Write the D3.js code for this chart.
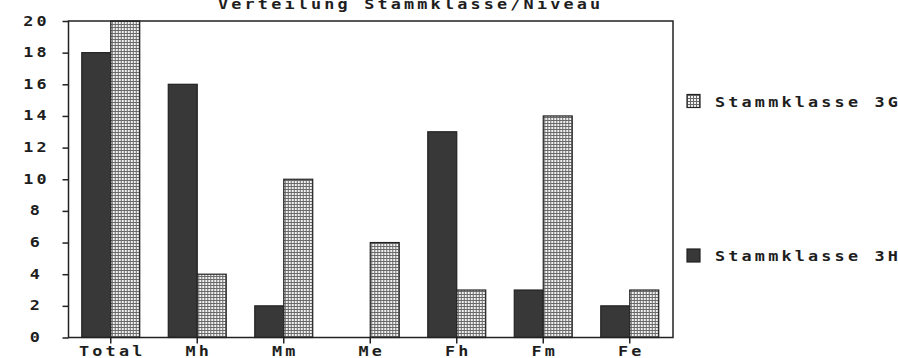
<!DOCTYPE html>
<html>
<head>
<meta charset="utf-8">
<script src="https://cdn.jsdelivr.net/npm/d3@7"></script>
<style>
  body { margin: 0; background: #fff; }
  text { font-family: "DejaVu Sans Mono", monospace; font-weight: bold; fill: #1e1e1e;
         font-size: 14px; letter-spacing: 2.65px; }
</style>
</head>
<body>
<div id="chart"></div>
<script>
const categories = ["Total", "Mh", "Mm", "Me", "Fh", "Fm", "Fe"];
const series = ["Stammklasse 3H", "Stammklasse 3G"];
const values3H = [18, 16, 2, 0, 13, 3, 2];
const values3G = [20, 4, 10, 6, 3, 14, 3];
const yTicks = [0, 2, 4, 6, 8, 10, 12, 14, 16, 18, 20];
const title = "Verteilung Stammklasse/Niveau";

const W = 898, H = 358;
const m = {t: 21, r: 225, b: 20.5, l: 67.5};
const SX = 1.2; // the old screen font is wide

const data = categories.map((c, i) => ({cat: c, vals: [values3H[i], values3G[i]]}));

const svg = d3.select("#chart").append("svg")
  .attr("width", W).attr("height", H);

// wide text helper
function label(sel, x, y) {
  return sel.attr("x", 0).attr("y", 0)
    .attr("transform", (d, i) => `translate(${x(d, i)},${y(d, i)}) scale(${SX},1)`);
}

// hatch pattern for the light series
const defs = svg.append("defs");
const pat = defs.append("pattern")
  .attr("id", "grid").attr("patternUnits", "userSpaceOnUse")
  .attr("width", 3).attr("height", 3);
pat.append("rect").attr("width", 3).attr("height", 3).attr("fill", "#f2f2f2");
pat.append("rect").attr("width", 3).attr("height", 1).attr("fill", "#6a6a6a");
pat.append("rect").attr("width", 1).attr("height", 3).attr("fill", "#6a6a6a");

const fills = ["#383838", "url(#grid)"];

const x0 = d3.scaleBand()
  .domain(categories)
  .range([m.l, W - m.r])
  .paddingInner(0.33)
  .paddingOuter(0.165);

const x1 = d3.scaleBand()
  .domain([0, 1])
  .range([0, x0.bandwidth()]);

const y = d3.scaleLinear()
  .domain([0, 20])
  .range([H - m.b, m.t]);

// bars
const groups = svg.selectAll(".grp")
  .data(data).enter().append("g")
  .attr("class", "grp")
  .attr("transform", d => `translate(${x0(d.cat)},0)`);

groups.selectAll("rect")
  .data(d => d.vals.map((v, k) => ({k, v})))
  .enter().append("rect")
  .attr("x", d => x1(d.k))
  .attr("width", x1.bandwidth())
  .attr("y", d => y(d.v))
  .attr("height", d => y(0) - y(d.v))
  .attr("fill", d => fills[d.k])
  .attr("stroke", "#222")
  .attr("stroke-width", d => d.v > 0 ? 1.2 : 0);

// frame
const left = m.l + 1, right = W - m.r;
svg.append("rect")
  .attr("x", left).attr("y", y(20))
  .attr("width", right - left).attr("height", y(0) - y(20))
  .attr("fill", "none").attr("stroke", "#222").attr("stroke-width", 1.5);

// y axis
const axisY = d3.axisLeft(y).tickValues(yTicks).tickSize(6).tickFormat("");
svg.append("g").attr("transform", `translate(${left},0)`).call(axisY)
  .call(g => g.select(".domain").remove())
  .call(g => g.selectAll("line").attr("stroke", "#222").attr("stroke-width", 1.5));

svg.append("g").selectAll("text")
  .data(yTicks).enter().append("text")
  .call(label, () => 36.5, d => y(d) + 4.5)
  .attr("text-anchor", "middle")
  .text(d => d);

// x axis
const axisX = d3.axisBottom(x0).tickSize(6).tickSizeOuter(0).tickFormat("");
const gx = svg.append("g").attr("transform", `translate(0,${y(0)})`).call(axisX);
gx.select(".domain").remove();
gx.selectAll(".tick line").attr("stroke", "#222").attr("stroke-width", 1.5);

svg.append("g").selectAll("text")
  .data(categories).enter().append("text")
  .call(label, d => x0(d) + x0.bandwidth() / 2 + 1.5, () => 355.5)
  .attr("text-anchor", "middle")
  .text(d => d);

// title (cut off at the top, as in the scan)
svg.append("text")
  .call(label, () => 218, () => 8.5)
  .text(title);

// legend
const legendY = {"Stammklasse 3G": 101, "Stammklasse 3H": 255.5};
const lg = svg.append("g").selectAll("g")
  .data([1, 0]).enter().append("g")
  .attr("transform", k => `translate(687,${legendY[series[k]]})`);
lg.append("rect")
  .attr("x", 0).attr("y", -6.5).attr("width", 13).attr("height", 13)
  .attr("fill", k => fills[k]).attr("stroke", "#222").attr("stroke-width", 1.2);
lg.append("text")
  .call(label, () => 28, () => 5.5)
  .text(k => series[k]);
</script>
</body>
</html>
